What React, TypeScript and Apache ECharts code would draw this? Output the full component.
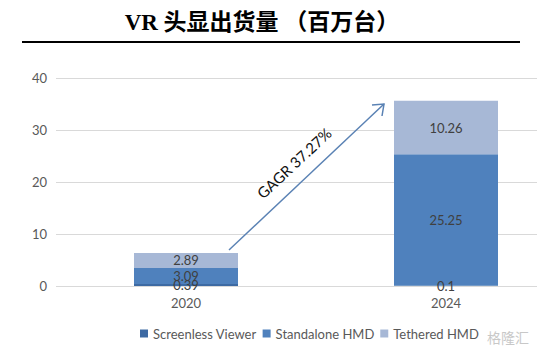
import React, { useEffect, useRef } from "react";
import * as echarts from "echarts";

const categories = ["2020", "2024"];
const screenless = [0.39, 0.1];
const standalone = [3.09, 25.25];
const tethered = [2.89, 10.26];
const yTicks = { min: 0, max: 40, interval: 10 };
const titleText = "VR 头显出货量 （百万台）";
const cagrText = "GAGR 37.27%";

export default function App() {
  const ref = useRef<HTMLDivElement>(null);
  useEffect(() => {
    if (!ref.current) return;
    const chart = echarts.init(ref.current, null, { renderer: "svg" });
    const font = "Lato, Open Sans, sans-serif";
    const labelStyle = {
      show: true,
      position: "inside",
      color: "#404040",
      fontSize: 13,
      fontFamily: font,
    };
    chart.setOption({
      animation: false,
      backgroundColor: "#ffffff",
      grid: { left: 56, width: 520, top: 78, bottom: 70, outerBoundsMode: "none", containLabel: false },
      xAxis: {
        type: "category",
        data: categories,
        axisLine: { show: false },
        axisTick: { show: false },
        axisLabel: { color: "#595959", fontSize: 13, margin: 10, fontFamily: font },
      },
      yAxis: {
        type: "value",
        min: yTicks.min,
        max: yTicks.max,
        interval: yTicks.interval,
        axisLabel: { color: "#595959", fontSize: 13, margin: 9, fontFamily: font },
        splitLine: { lineStyle: { color: "#d9d9d9", width: 1 } },
        axisLine: { show: false },
        axisTick: { show: false },
      },
      legend: {
        bottom: 11,
        left: 135,
        itemWidth: 8,
        itemHeight: 8,
        itemGap: 6,
        icon: "rect",
        textStyle: { color: "#595959", fontSize: 13, fontFamily: font },
        data: ["Screenless Viewer", "Standalone HMD", "Tethered HMD"],
      },
      series: [
        { name: "Screenless Viewer", type: "bar", stack: "t", barWidth: "40%", data: screenless, itemStyle: { color: "#3d6aa3" }, label: labelStyle },
        { name: "Standalone HMD", type: "bar", stack: "t", data: standalone, itemStyle: { color: "#4f81bd" }, label: labelStyle },
        { name: "Tethered HMD", type: "bar", stack: "t", data: tethered, itemStyle: { color: "#a7b8d6" }, label: labelStyle },
      ],
      graphic: [
        {
          type: "text",
          x: 262,
          y: 22,
          z: 100,
          style: {
            text: titleText,
            fontSize: 23,
            fontWeight: "bold",
            fontFamily: "Liberation Serif, Noto Sans CJK SC, serif",
            fill: "#000000",
            align: "center",
            verticalAlign: "middle",
          },
        },
        { type: "line", z: 100, shape: { x1: 22, y1: 42, x2: 520, y2: 42 }, style: { stroke: "#000000", lineWidth: 2 } },
        { type: "line", z: 100, shape: { x1: 229, y1: 250, x2: 384, y2: 104 }, style: { stroke: "#5a82b4", lineWidth: 1.5 } },
        { type: "polyline", z: 100, shape: { points: [[372, 105], [384, 104], [382, 116]] }, style: { stroke: "#5a82b4", lineWidth: 1.5, fill: "none" } },
        {
          type: "text",
          z: 100,
          x: 294,
          y: 163,
          rotation: (43 * Math.PI) / 180,
          style: {
            text: cagrText,
            fontSize: 15,
            fill: "#111111",
            fontFamily: font,
            align: "center",
            verticalAlign: "middle",
          },
        },
        {
          type: "text",
          right: 8,
          bottom: 12,
          z: 100,
          style: { text: "格隆汇", fontSize: 14, fill: "#c8c8c8", fontFamily: "Noto Sans CJK SC, sans-serif" },
        },
      ],
    });
    return () => chart.dispose();
  }, []);
  return <div ref={ref} style={{ position: "fixed", left: 0, top: 0, width: 537, height: 356 }} />;
}
